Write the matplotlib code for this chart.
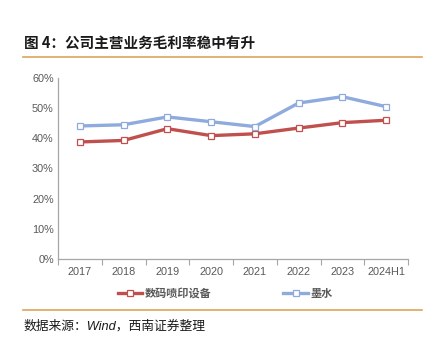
import numpy as np
import matplotlib.pyplot as plt
from matplotlib.lines import Line2D

plt.rcParams['font.family'] = ['Liberation Sans', 'Noto Sans CJK SC', 'DejaVu Sans']

categories = ['2017', '2018', '2019', '2020', '2021', '2022', '2023', '2024H1']
printer_margin = [38.8, 39.3, 43.2, 40.9, 41.5, 43.4, 45.2, 46.0]
ink_margin = [44.1, 44.5, 47.1, 45.5, 43.9, 51.7, 53.8, 50.5]
series_names = ['数码喷印设备', '墨水']
y_ticks = [0, 10, 20, 30, 40, 50, 60]

red = '#C0504D'
blue = '#8FAADC'
gray = '#595959'
orange = '#D9A55B'

fig = plt.figure(figsize=(4.36, 3.51), dpi=100)
W, H = 436, 351

# axes placed in pixel coords
ax = fig.add_axes([58 / W, 1 - 259 / H, 350 / W, 181 / H])

x = np.arange(len(categories))
ax.plot(x, printer_margin, color=red, lw=2.4, marker='s', ms=5,
        mfc='white', mec=red, mew=0.9, zorder=3)
ax.plot(x, ink_margin, color=blue, lw=2.4, marker='s', ms=5,
        mfc='white', mec=blue, mew=0.9, zorder=3)

ax.set_xlim(-0.5, len(categories) - 0.5)
ax.set_ylim(0, 60)
ax.set_yticks(y_ticks)
ax.set_yticklabels([f'{v}%' for v in y_ticks], color=gray, fontsize=7.8)
ax.set_xticks(x)
ax.set_xticklabels(categories, color=gray, fontsize=7.8)
ax.set_xticks(np.arange(-0.5, len(categories)), minor=True)
ax.tick_params(axis='x', which='major', length=0, pad=6)
ax.tick_params(axis='x', which='minor', length=4, color='#A6A6A6', width=0.8)
ax.tick_params(axis='y', length=0, pad=3)
for s in ['top', 'right']:
    ax.spines[s].set_visible(False)
for s in ['left', 'bottom']:
    ax.spines[s].set_color('#A6A6A6')
    ax.spines[s].set_linewidth(0.9)

handles = [Line2D([], [], color=red, lw=2.4, marker='s', ms=5, mfc='white', mec=red, mew=0.9),
           Line2D([], [], color=blue, lw=2.4, marker='s', ms=5, mfc='white', mec=blue, mew=0.9)]
fig.legend(handles, series_names, loc='center', bbox_to_anchor=(225 / W, 1 - 293 / H),
           ncol=2, frameon=False, handlelength=2.2, handletextpad=0.2,
           columnspacing=6.5, prop={'family': 'Noto Sans CJK SC', 'weight': 'bold', 'size': 8})
for t in fig.legends[0].get_texts():
    t.set_color(gray)

# title and rules
fig.text(24 / W, 1 - 43 / H, '图 4：公司主营业务毛利率稳中有升', fontsize=10.5,
         fontweight='bold', family=['Noto Sans CJK SC'], va='center', ha='left', color='#1a1a1a')
fig.add_artist(Line2D([23 / W, 422 / W], [1 - 57 / H, 1 - 57 / H], color=orange, lw=1.2))
fig.add_artist(Line2D([23 / W, 422 / W], [1 - 310 / H, 1 - 310 / H], color=orange, lw=1.2))
fig.text(24 / W, 1 - 326 / H, '数据来源：Wind，西南证券整理', fontsize=9.2, style='italic',
         family=['Liberation Sans', 'Noto Sans CJK SC'], va='center', ha='left', color='#1a1a1a')

fig.savefig('out.png', dpi=100)
